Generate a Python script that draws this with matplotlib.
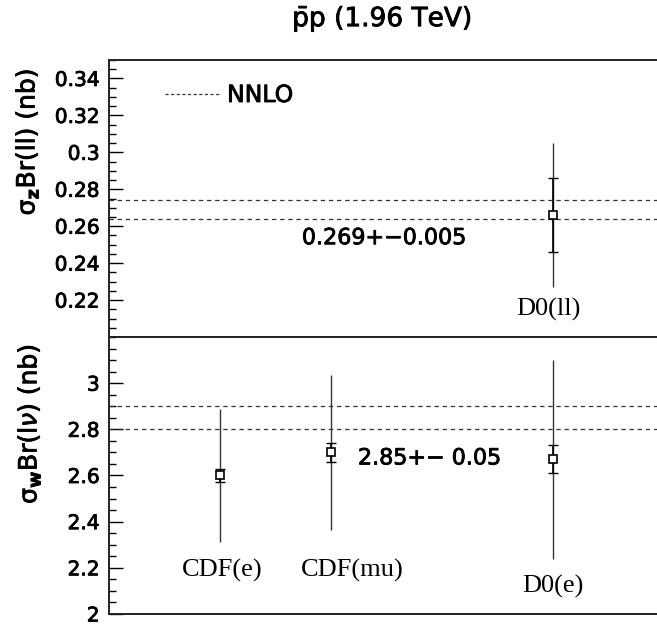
import matplotlib
matplotlib.use("Agg")
import matplotlib.pyplot as plt
from matplotlib.lines import Line2D
from matplotlib.ticker import MultipleLocator
import matplotlib.patheffects as pe

# ---- data ----
z_labels = ["D0(ll)"]
z_x = [4.0]
z_val = [0.266]
z_stat = [0.020]
z_tot = [0.039]
z_label_pos = [(3.96, 0.215)]

w_labels = ["CDF(e)", "CDF(mu)", "D0(e)"]
w_x = [1.0, 2.0, 4.0]
w_val = [2.60, 2.70, 2.67]
w_stat = [0.03, 0.04, 0.06]
w_tot = [0.29, 0.335, 0.43]
w_label_pos = [(1.02, 2.19), (2.19, 2.19), (4.0, 2.12)]

nnlo_z, nnlo_z_err = 0.269, 0.005
nnlo_w, nnlo_w_err = 2.85, 0.05
z_note = "0.269+\u22120.005"
w_note = "2.85+\u2212 0.05"

plt.rcParams['font.family'] = ['DejaVu Sans']
plt.rcParams['mathtext.fontset'] = 'dejavusans'

bold = [pe.withStroke(linewidth=0.6, foreground='black')]

fig = plt.figure(figsize=(6.57, 6.27), dpi=100)
L = 109.4 / 657
ax1 = fig.add_axes([L, 1 - 337 / 627, 1 - L, 277 / 627])
ax2 = fig.add_axes([L, 1 - 614 / 627, 1 - L, 277 / 627])

sans = 14.5
serif = dict(family='Liberation Serif', fontsize=19)
dash = (0, (3.5, 3))

def style(ax, ylim, major, minor):
    ax.set_xlim(0, 4.94)
    ax.set_ylim(*ylim)
    ax.set_xticks([])
    ax.yaxis.set_major_locator(MultipleLocator(major))
    ax.yaxis.set_minor_locator(MultipleLocator(minor))
    ax.tick_params(axis='y', which='major', direction='in', length=10, width=1,
                   labelsize=sans, pad=7)
    ax.tick_params(axis='y', which='minor', direction='in', length=5, width=1)
    ax.spines['right'].set_visible(False)
    for s in ['left', 'top', 'bottom']:
        ax.spines[s].set_linewidth(1.4)
        ax.spines[s].set_color('#222222')

style(ax1, (0.2, 0.35), 0.02, 0.005)
style(ax2, (2.0, 3.2), 0.2, 0.05)
ax1.set_yticks([0.22, 0.24, 0.26, 0.28, 0.30, 0.32, 0.34])
ax1.set_yticklabels(['0.22', '0.24', '0.26', '0.28', '0.3', '0.32', '0.34'])
ax2.set_yticks([2.0, 2.2, 2.4, 2.6, 2.8, 3.0])
ax2.set_yticklabels(['2', '2.2', '2.4', '2.6', '2.8', '3'])
for ax in (ax1, ax2):
    for t in ax.get_yticklabels():
        t.set_path_effects(bold)

# NNLO bands
for v in (nnlo_z - nnlo_z_err, nnlo_z + nnlo_z_err):
    ax1.axhline(v, color='#333333', lw=0.9, ls=dash)
for v in (nnlo_w - nnlo_w_err, nnlo_w + nnlo_w_err):
    ax2.axhline(v, color='#333333', lw=0.9, ls=dash)

def points(ax, xs, vals, stat, tot):
    ax.errorbar(xs, vals, yerr=tot, fmt='none', ecolor='#333333', elinewidth=1.0,
                capsize=0, zorder=3)
    ax.errorbar(xs, vals, yerr=stat, fmt='none', ecolor='black', elinewidth=1.2,
                capsize=3.5, capthick=1.0, zorder=4)
    ax.plot(xs, vals, 's', ms=6, mfc='white', mec='black', mew=1.2, zorder=5)

points(ax1, z_x, z_val, z_stat, z_tot)
points(ax2, w_x, w_val, w_stat, w_tot)

for lab, (x, y) in zip(z_labels, z_label_pos):
    ax1.text(x, y, lab, ha='center', va='center', **serif)
for lab, (x, y) in zip(w_labels, w_label_pos):
    ax2.text(x, y, lab, ha='center', va='center', **serif)

ax1.text(2.48, 0.2535, z_note, ha='center', va='center', fontsize=16,
         path_effects=bold)
ax2.text(2.89, 2.674, w_note, ha='center', va='center', fontsize=16,
         path_effects=bold)

h = Line2D([], [], color='#333333', lw=0.9, ls=(0, (2.5, 2)))
leg = ax1.legend([h], ['NNLO'], loc='center left',
                 bbox_to_anchor=((165 - 109.4) / 547.6, 1 - (95 - 60) / 277),
                 frameon=False, fontsize=17, handlelength=55 / 23.6,
                 handletextpad=7 / 23.6, borderpad=0, borderaxespad=0)
for t in leg.get_texts():
    t.set_path_effects(bold)

fig.text(27 / 657, 1 - 142 / 627, r'$\mathrm{\sigma}_{\mathbf{z}}$Br(ll) (nb)',
         rotation=90, ha='center', va='center', fontsize=18, path_effects=bold)
fig.text(29 / 657, 1 - 424 / 627, r'$\mathrm{\sigma}_{\mathbf{w}}$Br(l$\nu$) (nb)',
         rotation=90, ha='center', va='center', fontsize=18, path_effects=bold)

fig.text(382 / 657, 1 - 19 / 627, r'$\bar{\mathrm{p}}$p (1.96 TeV)', ha='center',
         va='center', fontsize=19, path_effects=bold)

fig.savefig('out.png', dpi=100)
